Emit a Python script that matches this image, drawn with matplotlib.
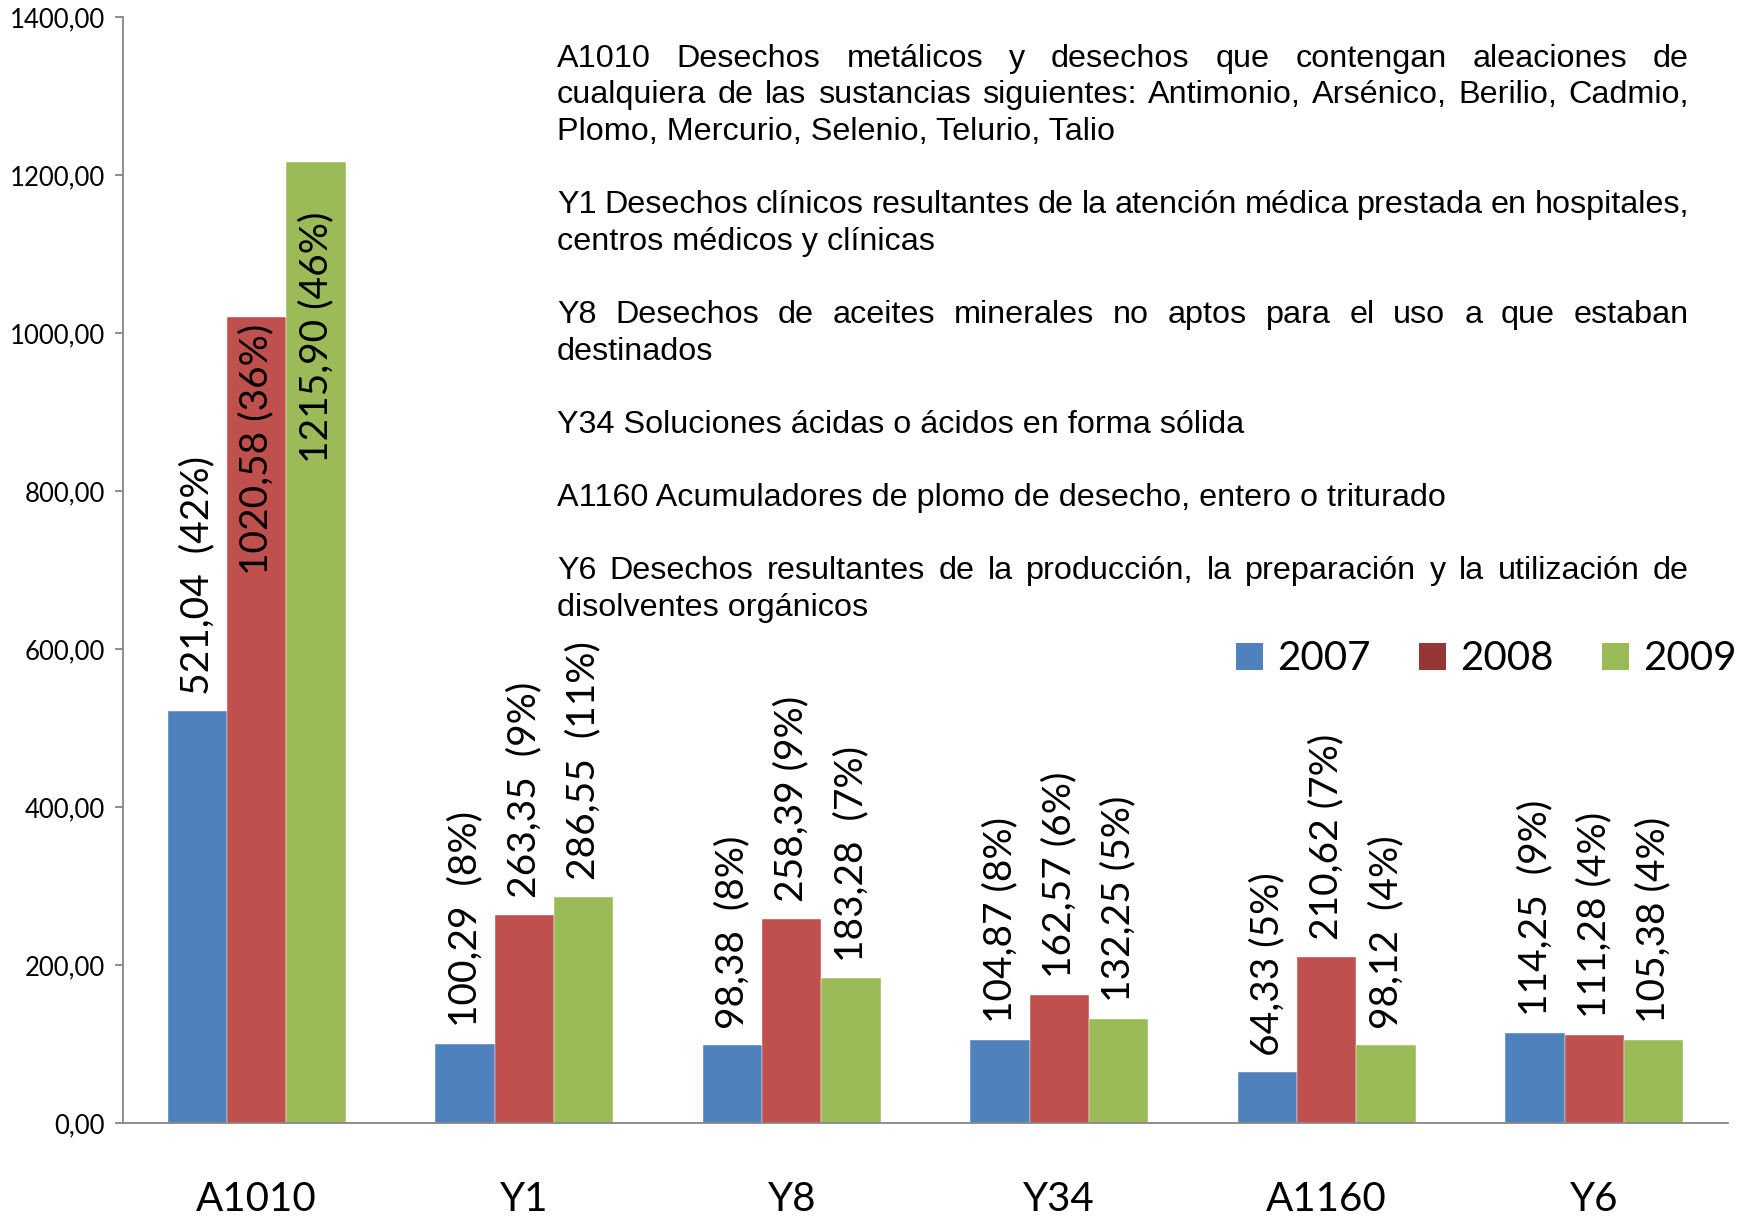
import matplotlib
matplotlib.use("Agg")
import matplotlib.pyplot as plt
from matplotlib.patches import Patch
from matplotlib.ticker import FuncFormatter
from matplotlib.transforms import IdentityTransform
import numpy as np

# ---- data ----
categories = ["A1010", "Y1", "Y8", "Y34", "A1160", "Y6"]
years = ["2007", "2008", "2009"]
vals_2007 = [521.04, 100.29, 98.38, 104.87, 64.33, 114.25]
vals_2008 = [1020.58, 263.35, 258.39, 162.57, 210.62, 111.28]
vals_2009 = [1215.90, 286.55, 183.28, 132.25, 98.12, 105.38]
labels_2007 = ["521,04  (42%)", "100,29  (8%)", "98,38  (8%)",
               "104,87 (8%)", "64,33 (5%)", "114,25  (9%)"]
labels_2008 = ["1020,58 (36%)", "263,35  (9%)", "258,39 (9%)",
               "162,57 (6%)", "210,62 (7%)", "111,28 (4%)"]
labels_2009 = ["1215,90 (46%)", "286,55  (11%)", "183,28  (7%)",
               "132,25 (5%)", "98,12  (4%)", "105,38 (4%)"]
y_ticks = [0, 200, 400, 600, 800, 1000, 1200, 1400]

notes = [
    ["A1010 Desechos metálicos y desechos que contengan aleaciones de",
     "cualquiera de las sustancias siguientes: Antimonio, Arsénico, Berilio, Cadmio,",
     "Plomo, Mercurio, Selenio, Telurio, Talio"],
    ["Y1 Desechos clínicos resultantes de la atención médica prestada en hospitales,",
     "centros médicos y clínicas"],
    ["Y8 Desechos de aceites minerales no aptos para el uso a que estaban",
     "destinados"],
    ["Y34 Soluciones ácidas o ácidos en forma sólida"],
    ["A1160 Acumuladores de plomo de desecho, entero o triturado"],
    ["Y6 Desechos resultantes de la producción, la preparación y la utilización de",
     "disolventes orgánicos"],
]

bar_colors = ["#4F81BD", "#C0504D", "#9BBB59"]
legend_colors = ["#4F81BD", "#953735", "#9BBB59"]

W, H = 1748, 1219
fig = plt.figure(figsize=(W / 100, H / 100), dpi=100)
ax = fig.add_axes([123 / W, 96 / H, 1605 / W, 1106 / H])

num_font = "Lato"
x = np.arange(len(categories))
bw = 0.222
series = [vals_2007, vals_2008, vals_2009]
labels = [labels_2007, labels_2008, labels_2009]
inside_cap = 0.83 * y_ticks[-1]   # inside labels never start above this

for k, (vals, labs) in enumerate(zip(series, labels)):
    xs = x + (k - 1) * bw
    ax.bar(xs, vals, width=bw, color=bar_colors[k], edgecolor="white",
           linewidth=0.3, zorder=2)
    for xi, v, lab in zip(xs, vals, labs):
        # labels that would run too high go inside the bar end
        if v > 0.7 * y_ticks[-1]:
            ax.annotate(lab, (xi, min(v, inside_cap)), xytext=(0, -5),
                        textcoords="offset points", rotation=90, ha="center",
                        va="top", fontsize=28, family=num_font, zorder=3)
        else:
            ax.annotate(lab, (xi, v), xytext=(0, 12), textcoords="offset points",
                        rotation=90, ha="center", va="bottom", fontsize=28,
                        family=num_font, zorder=3)

ax.set_xlim(-0.5, len(categories) - 0.5)
ax.set_ylim(y_ticks[0], y_ticks[-1])
ax.set_yticks(y_ticks)
ax.yaxis.set_major_formatter(FuncFormatter(lambda v, p: f"{v:.2f}".replace(".", ",")))
ax.set_xticks(x)
ax.set_xticklabels(categories)

for lab in ax.get_yticklabels():
    lab.set_fontfamily(num_font)
    lab.set_fontsize(18.5)
for lab in ax.get_xticklabels():
    lab.set_fontfamily(num_font)
    lab.set_fontsize(29)

ax.tick_params(axis="y", direction="out", length=6, width=1.3, color="#868686", pad=7)
ax.tick_params(axis="x", length=0, pad=42)
for side in ["top", "right"]:
    ax.spines[side].set_visible(False)
for side in ["left", "bottom"]:
    ax.spines[side].set_color("#868686")
    ax.spines[side].set_linewidth(1.3)

# legend
handles = [Patch(facecolor=c, edgecolor="none") for c in legend_colors]
leg = fig.legend(handles, years, loc="center left",
                 bbox_to_anchor=(1236 / W, 1 - 659 / H), ncol=3, frameon=False,
                 prop={"family": num_font, "size": 29}, handlelength=0.67,
                 handleheight=0.67, handletextpad=0.35, columnspacing=1.2,
                 borderpad=0, borderaxespad=0)

# justified description block
x0, x1 = 557, 1689
base0, step = 66.7, 36.6
text_kw = dict(fontsize=23.3, family="Liberation Sans", transform=IdentityTransform(),
               va="baseline", ha="left")
renderer = fig.canvas.get_renderer()
row = 0
for para in notes:
    for j, line in enumerate(para):
        y = H - (base0 + row * step)
        last = j == len(para) - 1
        if last:
            fig.text(x0, y, line, **text_kw)
        else:
            words = line.split(" ")
            arts = [fig.text(0, y, w, **text_kw) for w in words]
            widths = [a.get_window_extent(renderer).width for a in arts]
            gap = (x1 - x0 - sum(widths)) / (len(words) - 1)
            pos = x0
            for a, wd in zip(arts, widths):
                a.set_x(pos)
                pos += wd + gap
        row += 1
    row += 1

fig.savefig("out.png", dpi=100)
